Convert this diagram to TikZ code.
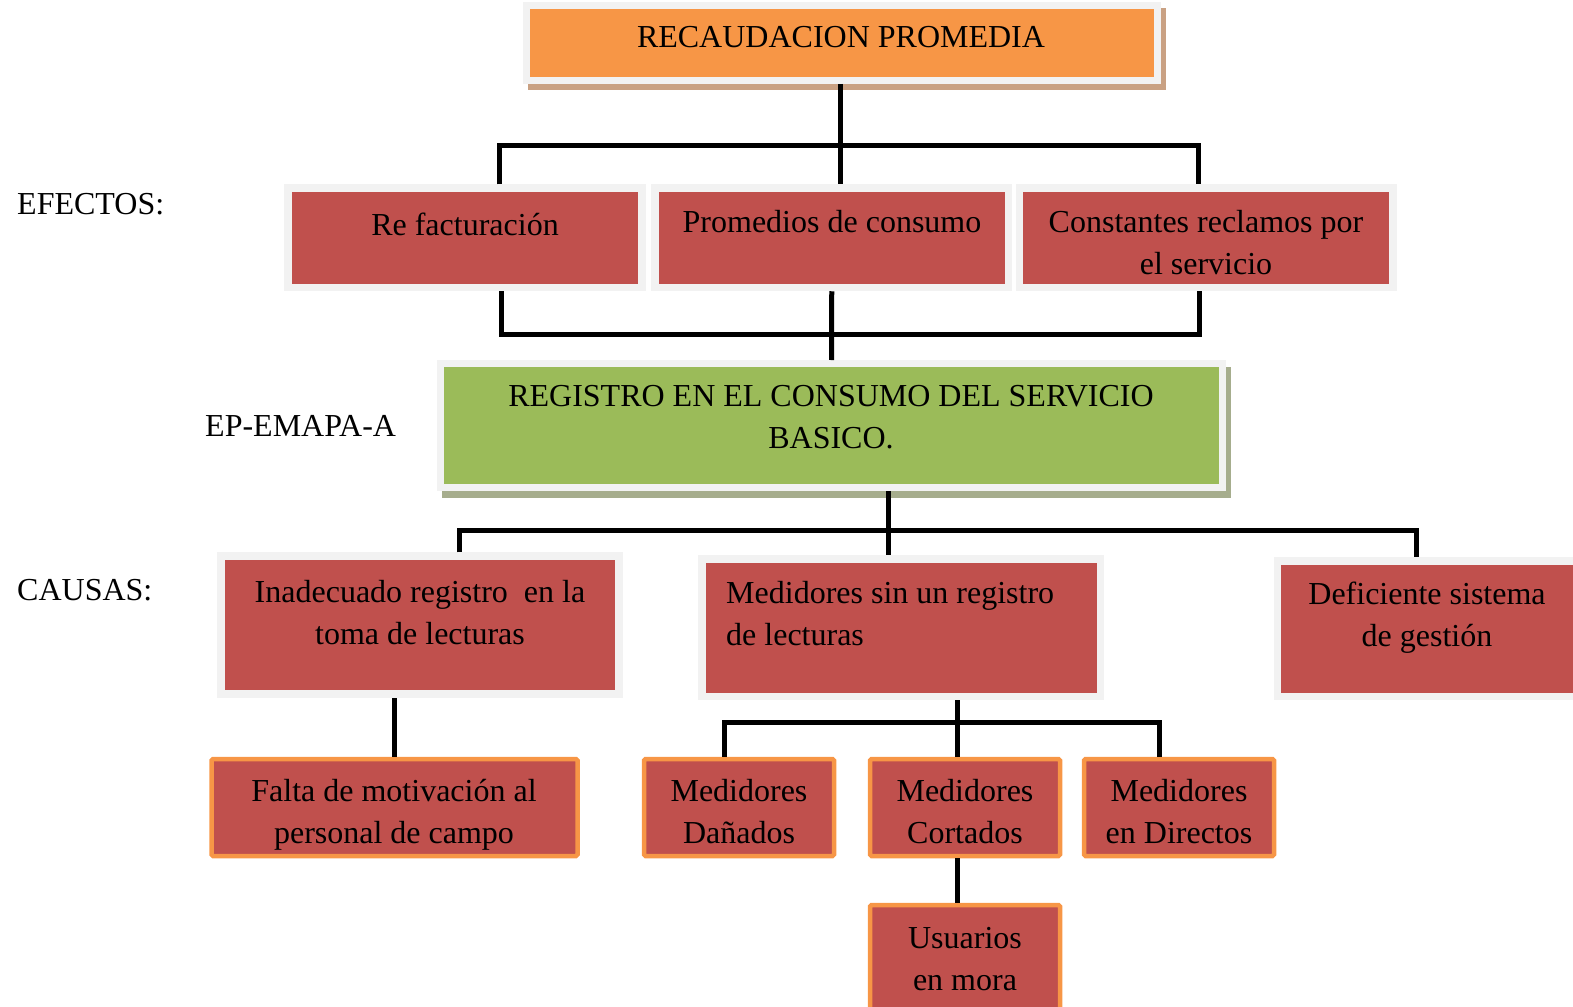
\documentclass[tikz,border=0pt]{standalone}
\usepackage{fontspec}
\setmainfont{Liberation Serif}
\usetikzlibrary{calc}

\definecolor{cOrange}{HTML}{F79646}
\definecolor{cRed}{HTML}{C0504D}
\definecolor{cGreen}{HTML}{9BBB59}
\definecolor{cFrame}{HTML}{F2F2F2}
\definecolor{cTan}{HTML}{C9A183}
\definecolor{cSage}{HTML}{A6AD8D}

\tikzset{
  x=1pt, y=-1pt,
  boxbase/.style={rectangle, inner sep=0pt, anchor=center},
  framed/.style={boxbase, fill=#1, draw=cFrame, line width=7.5pt},
  shadowed/.style 2 args={preaction={draw=#1, fill=#1,
      transform canvas={shift={(#2)}}}},
  orangebox/.style={boxbase, fill=cRed, draw=cOrange, line width=4.5pt,
      rounded corners=1.5pt},
  lbl/.style={font=\fontsize{32}{42}\selectfont, align=center,
      inner sep=0pt, anchor=base},
  conn/.style={line width=5pt, black},
}

\begin{document}
\begin{tikzpicture}
\useasboundingbox (0,0) rectangle (1573,1006);
\clip (0,0) rectangle (1573,1006);

% ---------- boxes ----------
\node[framed=cOrange, line width=7pt, shadowed={cTan}{5pt,-6pt},
      minimum width=631, minimum height=75] (top) at (842,43) {};

\node[framed=cRed, minimum width=354, minimum height=99.5] (e1) at (465,237.75) {};
\node[framed=cRed, minimum width=353.5, minimum height=99.5] (e2) at (831.75,237.75) {};
\node[framed=cRed, minimum width=373.5, minimum height=99.5] (e3) at (1206.25,237.75) {};

\node[framed=cGreen, line width=7pt, shadowed={cSage}{5pt,-7pt},
      minimum width=782, minimum height=124] (green) at (831.5,425.5) {};

\node[framed=cRed, minimum width=398, minimum height=138] (c1) at (420,625) {};
\node[framed=cRed, minimum width=398.5, minimum height=137.5] (c2) at (901.25,627.75) {};
\node[framed=cRed, minimum width=340, minimum height=135.5] (c3) at (1447.5,628.75) {};

\node[orangebox, minimum width=366, minimum height=97] (falta) at (394.5,807.5) {};
\node[orangebox, minimum width=190, minimum height=97] (danados) at (739,807.5) {};
\node[orangebox, minimum width=190, minimum height=97] (cortados) at (965,807.5) {};
\node[orangebox, minimum width=190, minimum height=97] (directos) at (1179,807.5) {};
\node[orangebox, minimum width=190, minimum height=120] (mora) at (965,965) {};

% ---------- texts (base = baseline of the last line) ----------
\node[lbl] (ttop) at (841,48) {RECAUDACION PROMEDIA};
\node[lbl, anchor=base west] (tefe) at (17,214) {EFECTOS:};
\node[lbl] (te1) at (465,235) {Re facturación};
\node[lbl] (te2) at (832,232) {Promedios de consumo};
\node[lbl] (te3) at (1206,274) {Constantes reclamos por\\el servicio};
\node[lbl, anchor=base west] (tep) at (205,436) {EP-EMAPA-A};
\node[lbl] (tgreen) at (831,448) {REGISTRO EN EL CONSUMO DEL SERVICIO\\BASICO.};
\node[lbl, anchor=base west] (tcau) at (17,600) {CAUSAS:};
\node[lbl] (tc1) at (420,644) {Inadecuado registro\ \ en la\\toma de lecturas};
\node[lbl, align=left, anchor=base west] (tc2) at (726,645) {Medidores sin un registro\\de lecturas};
\node[lbl] (tc3) at (1427,646) {Deficiente sistema\\de gestión};
\node[lbl] (tfalta) at (394,843) {Falta de motivación al\\personal de campo};
\node[lbl] (tdan) at (739,843) {Medidores\\Dañados};
\node[lbl] (tcor) at (965,843) {Medidores\\Cortados};
\node[lbl] (tdir) at (1179,843) {Medidores\\en Directos};
\node[lbl] (tmora) at (965,990) {Usuarios\\en mora};

% ---------- connectors ----------
% effects bus (top)
\coordinate (ba) at (499,145);
\coordinate (bb) at (1198,145);
\draw[conn] (840,0 |- top.south) -- (840,0 |- e2.north);
\draw[conn] (ba |- e1.north) -- (ba) -- (bb) -- (bb |- e3.north);

% effects bus (bottom)
\coordinate (bc) at (501,334);
\coordinate (bd) at (1199,334);
\draw[conn] (bc |- e1.south) -- (bc) -- (bd) -- (bd |- e3.south);
\draw[conn] (e2.south) -- (green.north);

% causes bus
\coordinate (bm) at (888,530);
\coordinate (be) at (459,530);
\coordinate (bf) at (1416,530);
\draw[conn] (bm |- green.south) -- (bm |- c2.north);
\draw[conn] (be |- c1.north) -- (be) -- (bf) -- (bf |- c3.north);

% first cause
\draw[conn] (falta.north) -- (falta.north |- c1.south);

% meters bus
\coordinate (bg) at (957,722);
\coordinate (bh) at (724,722);
\coordinate (bi) at (1159,722);
\draw[conn] (bg |- c2.south) -- (bg |- cortados.north);
\draw[conn] (bh |- danados.north) -- (bh) -- (bi) -- (bi |- directos.north);
\draw[conn] (bg |- cortados.south) -- (bg |- mora.north);
\end{tikzpicture}
\end{document}
